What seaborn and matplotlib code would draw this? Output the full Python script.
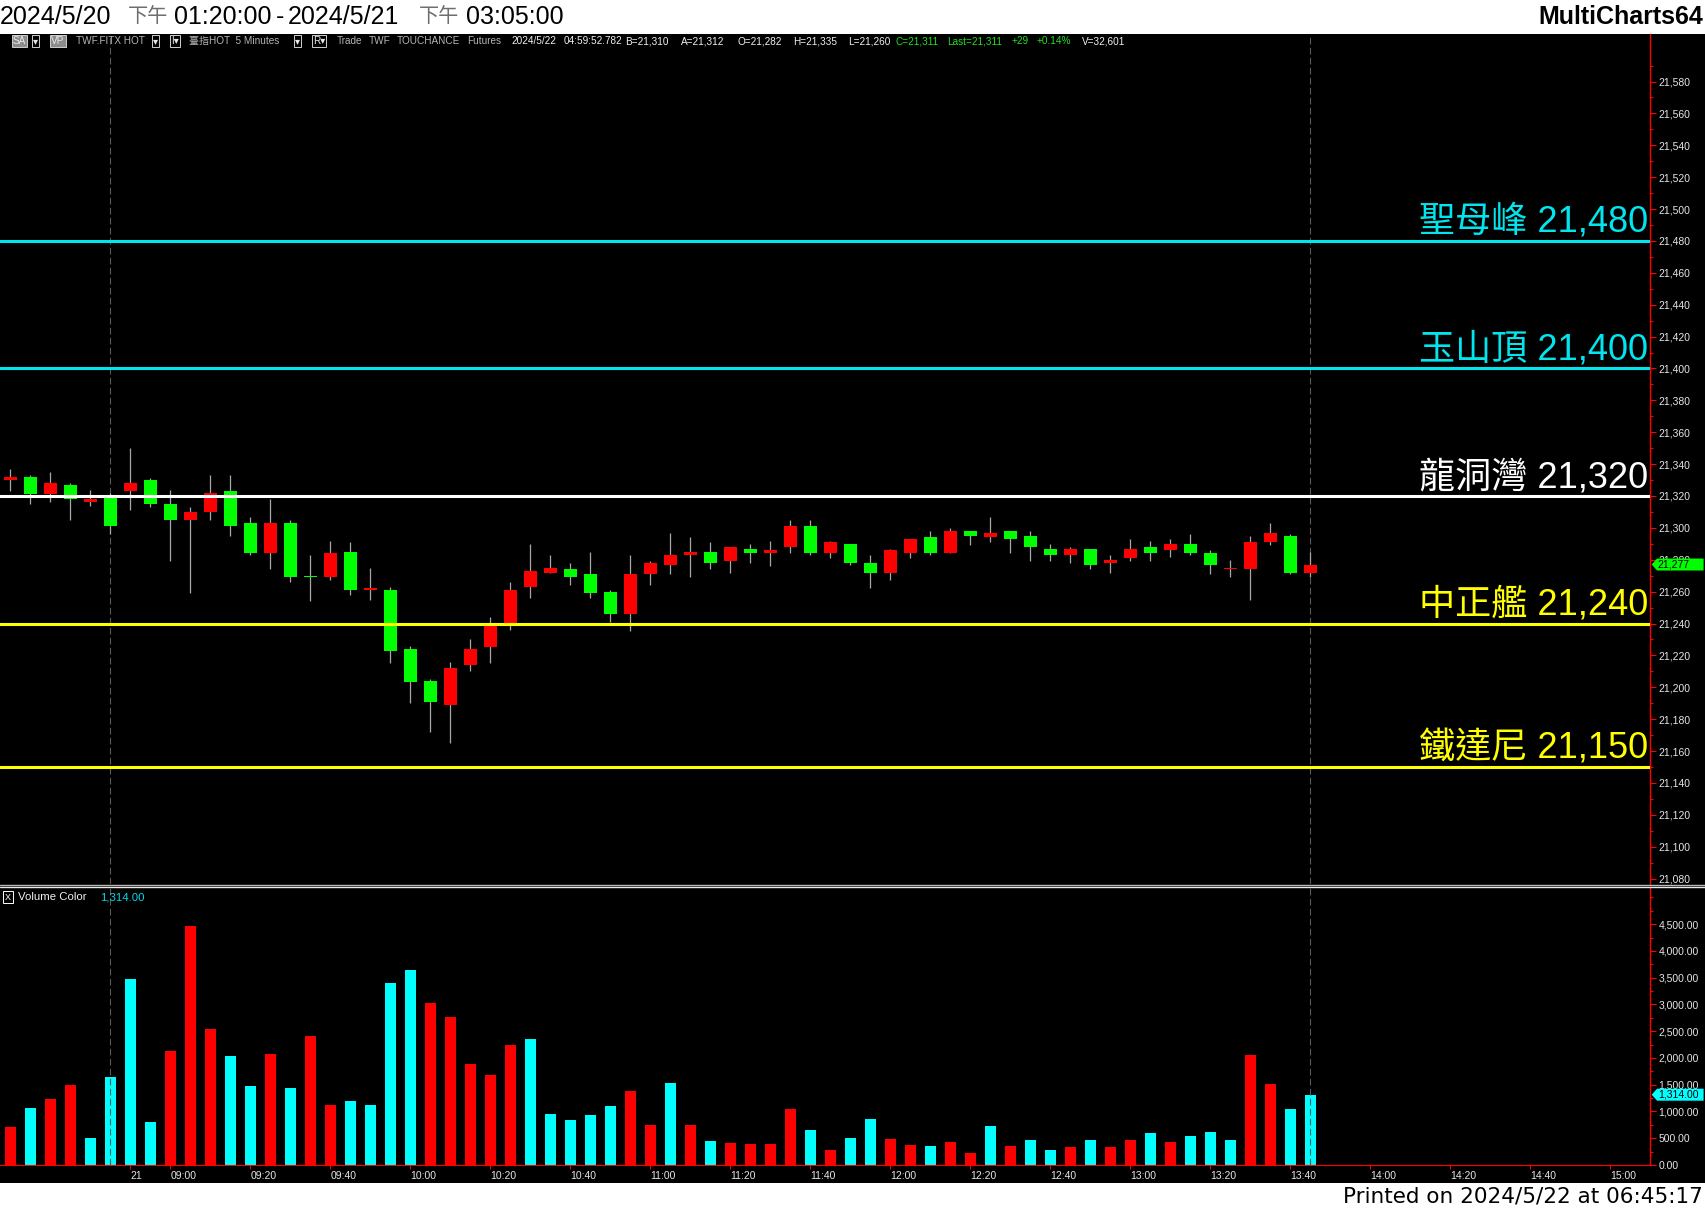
import matplotlib
matplotlib.use("Agg")
import numpy as np
import pandas as pd
import seaborn as sns
import matplotlib.pyplot as plt
import matplotlib.transforms as mtransforms
from matplotlib.patches import Rectangle, Polygon
from matplotlib.lines import Line2D

# 5-minute bars, TWF.FITX HOT
opens = [21330, 21332, 21321, 21327, 21316, 21320, 21323, 21330, 21315, 21305,
         21310, 21323, 21303, 21284, 21303, 21270, 21269, 21285, 21261, 21261,
         21224, 21204, 21189, 21214, 21225, 21239, 21263, 21272, 21274, 21271,
         21260, 21246, 21271, 21277, 21283, 21285, 21279, 21287, 21284, 21288,
         21301, 21284, 21290, 21278, 21272, 21284, 21294, 21284, 21298, 21294,
         21298, 21295, 21287, 21283, 21287, 21278, 21281, 21288, 21286, 21290,
         21284, 21274, 21274, 21291, 21295, 21272]
highs = [21337, 21333, 21335, 21328, 21324, 21322, 21350, 21331, 21324, 21313,
         21333, 21333, 21307, 21318, 21305, 21283, 21292, 21291, 21275, 21263,
         21226, 21205, 21216, 21230, 21244, 21266, 21290, 21283, 21278, 21285,
         21261, 21283, 21279, 21297, 21294, 21291, 21288, 21290, 21292, 21305,
         21305, 21292, 21290, 21283, 21287, 21293, 21298, 21300, 21298, 21307,
         21298, 21298, 21290, 21288, 21287, 21283, 21293, 21292, 21293, 21296,
         21286, 21280, 21295, 21303, 21296, 21285]
lows = [21323, 21315, 21316, 21305, 21314, 21296, 21311, 21313, 21279, 21259,
        21305, 21295, 21283, 21274, 21266, 21254, 21267, 21258, 21255, 21215,
        21190, 21172, 21165, 21210, 21215, 21236, 21256, 21272, 21264, 21256,
        21241, 21235, 21264, 21271, 21269, 21274, 21272, 21278, 21276, 21284,
        21283, 21281, 21277, 21262, 21267, 21281, 21283, 21284, 21289, 21291,
        21284, 21279, 21279, 21278, 21274, 21272, 21279, 21279, 21282, 21283,
        21271, 21269, 21255, 21289, 21271, 21269]
closes = [21332, 21321, 21328, 21318, 21318, 21301, 21328, 21315, 21305, 21310,
          21322, 21301, 21284, 21303, 21269, 21269, 21284, 21261, 21262, 21223,
          21203, 21191, 21212, 21224, 21239, 21261, 21273, 21275, 21269, 21259,
          21246, 21271, 21278, 21283, 21285, 21278, 21288, 21284, 21286, 21301,
          21284, 21291, 21278, 21272, 21286, 21293, 21284, 21298, 21295, 21297,
          21293, 21288, 21283, 21287, 21277, 21280, 21287, 21284, 21290, 21284,
          21277, 21275, 21291, 21297, 21272, 21277]
volumes = [718, 1073, 1241, 1503, 512, 1652, 3484, 811, 2138, 4474,
           2549, 2045, 1484, 2082, 1447, 2419, 1129, 1204, 1129, 3409,
           3652, 3035, 2774, 1895, 1690, 2250, 2362, 961, 849, 942,
           1110, 1391, 755, 1540, 755, 456, 419, 400, 400, 1054,
           662, 288, 512, 867, 493, 381, 363, 437, 232, 736,
           363, 475, 288, 344, 475, 344, 475, 606, 437, 549,
           624, 475, 2063, 1521, 1054, 1314]
vol_tone = ["red", "cyan", "red", "red", "cyan", "cyan", "cyan", "cyan", "red", "red",
            "red", "cyan", "cyan", "red", "cyan", "red", "red", "cyan", "cyan", "cyan",
            "cyan", "red", "red", "red", "red", "red", "cyan", "cyan", "cyan", "cyan",
            "cyan", "red", "red", "cyan", "red", "cyan", "red", "red", "red", "red",
            "cyan", "red", "cyan", "cyan", "red", "red", "cyan", "red", "red", "cyan",
            "red", "cyan", "cyan", "red", "cyan", "red", "red", "cyan", "red", "cyan",
            "cyan", "cyan", "red", "red", "cyan", "cyan"]

time_ticks = [6, 8, 12, 16, 20, 24, 28, 32, 36, 40, 44, 48, 52, 56, 60, 64, 68, 72, 76, 80]
time_labels = ["21", "09:00", "09:20", "09:40", "10:00", "10:20", "10:40", "11:00", "11:20",
               "11:40", "12:00", "12:20", "12:40", "13:00", "13:20", "13:40", "14:00",
               "14:20", "14:40", "15:00"]
session_marks = [5, 65]

levels = [21480, 21400, 21320, 21240, 21150]
level_names = ["聖母峰", "玉山頂", "龍洞灣", "中正艦", "鐵達尼"]
level_colors = ["#00E5EE", "#00E5EE", "#FFFFFF", "#FFFF00", "#FFFF00"]

last_price = 21277
last_volume = 1314

W, H = 1705, 1211

sns.set_style("ticks")
plt.rcParams["font.family"] = ["Liberation Sans", "Noto Sans CJK TC", "DejaVu Sans"]
fam = ["Liberation Sans", "Noto Sans CJK TC", "DejaVu Sans"]


def fx(x):
    return x / W


def fy(y):
    return 1 - y / H


fig = plt.figure(figsize=(W / 100, H / 100), dpi=100, facecolor="white")
fig.patches.append(Rectangle((0, fy(1183)), 1, (1183 - 34) / H, transform=fig.transFigure,
                             facecolor="black", edgecolor="none", zorder=-10))

ax = fig.add_axes([0, fy(884), fx(1650), (884 - 34) / H])
ax_v = fig.add_axes([0, fy(1165), fx(1650), (1165 - 887) / H])

idx = np.arange(len(opens))
o = np.array(opens)
c = np.array(closes)
body_col = np.where(c >= o, "#FF0000", "#00FF00")

# candles
ax.vlines(idx, lows, highs, color="#A8A8A8", lw=0.9, zorder=2)
ax.bar(idx, np.abs(c - o), bottom=np.minimum(o, c), width=0.65, color=body_col,
       linewidth=0, zorder=3)

# price levels
ytr = ax.get_yaxis_transform()
for lv, name, col in zip(levels, level_names, level_colors):
    ax.axhline(lv, color=col, lw=2.2, zorder=4)
    ax.text(0.9988, lv + 5.6, f"{name} {lv:,}", transform=ytr, ha="right", va="baseline",
            fontsize=26, color=col, zorder=5, family=fam)

# volume
vol_df = pd.DataFrame({"bar": idx, "volume": volumes, "tone": vol_tone})
sns.barplot(data=vol_df, x="bar", y="volume", hue="tone",
            palette={"red": "#FF0000", "cyan": "#00FFFF"}, native_scale=True,
            width=0.55, dodge=False, legend=False, errorbar=None, saturation=1,
            linewidth=0, ax=ax_v)

for a in (ax, ax_v):
    a.set_facecolor("black")
    a.set_xlabel("")
    a.set_ylabel("")
    a.grid(False)
    for s in ("top", "left", "bottom"):
        a.spines[s].set_visible(False)
    a.spines["right"].set_color("#FF0000")
    a.spines["right"].set_linewidth(1.0)
    a.yaxis.tick_right()
    a.tick_params(axis="y", which="major", colors="#FF0000", labelcolor="#E6E6E6",
                  labelsize=7.5, direction="out", length=4, width=0.8, pad=2)
    a.tick_params(axis="y", which="minor", colors="#FF0000", direction="out",
                  length=2.5, width=0.8)
    for xm in session_marks:
        a.axvline(xm, color="#5A5A5A", lw=0.8, ls=(0, (6, 3)), zorder=1)

pticks = np.arange(21080, 21581, 20)
ax.set_yticks(pticks)
ax.set_yticklabels([f"{v:,}" for v in pticks])
ax.set_yticks(np.arange(21090, 21600, 10), minor=True)
ax.set_xticks([])

vticks = np.arange(0, 4501, 500)
ax_v.set_yticks(vticks)
ax_v.set_yticklabels([f"{v:,.2f}" for v in vticks])
ax_v.set_yticks(np.arange(0, 5001, 250), minor=True)
ax_v.spines["bottom"].set_visible(True)
ax_v.spines["bottom"].set_color("#FF0000")
ax_v.set_xticks(time_ticks)
ax_v.set_xticklabels(time_labels)
ax_v.tick_params(axis="x", colors="#FF0000", labelcolor="#E6E6E6", labelsize=7.5,
                 direction="out", length=3, width=0.8, pad=1)
for lab in ax_v.get_xticklabels():
    lab.set_ha("left")

# limits last, so tick setting cannot widen them
for a in (ax, ax_v):
    a.set_xlim(-0.515, 81.985)
ax.set_ylim(21076.6, 21609.8)
ax_v.set_ylim(0, 5196)


# last value markers
def marker(a, value, half, face, text):
    tr = mtransforms.blended_transform_factory(a.transAxes, a.transData)
    pts = [[1.001, value], [1.0043, value + half], [1.0325, value + half],
           [1.0325, value - half], [1.0043, value - half]]
    a.add_patch(Polygon(pts, closed=True, transform=tr, facecolor=face,
                        edgecolor="none", clip_on=False, zorder=10))
    a.text(1.0048, value, text, transform=tr, ha="left", va="center", fontsize=7.5,
           color="black", zorder=11, clip_on=False)


marker(ax, last_price, 6 / 1.594, "#00FF00", f"{last_price:,}")
marker(ax_v, last_volume, 6 * 18.69, "#00FFFF", f"{last_volume:,.2f}")
ax.set_ylim(21076.6, 21609.8)
ax_v.set_ylim(0, 5196)

# panel separator
fig.add_artist(Line2D([0, 1], [fy(884.5), fy(884.5)], color="#B8B8B8", lw=1.0,
                      transform=fig.transFigure))
fig.add_artist(Line2D([0, 1], [fy(886.8), fy(886.8)], color="#E8E8E8", lw=1.0,
                      transform=fig.transFigure))

# header title
title_parts = [(0, "2024/5/20", "black", 18), (128, "下午", "#6E6E6E", 14.5),
               (174, "01:20:00", "black", 18), (276, "-", "black", 18),
               (288, "2024/5/21", "black", 18), (419, "下午", "#6E6E6E", 14.5),
               (466, "03:05:00", "black", 18)]
for x, s, col, size in title_parts:
    fig.text(fx(x), fy(17), s, ha="left", va="center", fontsize=size, color=col, family=fam)
fig.text(fx(1703), fy(17), "MultiCharts64", ha="right", va="center",
         fontsize=18, fontweight="bold", color="black", family=fam)
fig.text(fx(1703), fy(1197), "Printed on 2024/5/22 at 06:45:17", ha="right", va="center",
         fontsize=15.5, color="black", family=["DejaVu Sans"])

# info line
isize = 7.2
iy = fy(41)
boxed = [(13, "SA", "#8C8C8C"), (51, "VP", "#8C8C8C"), (33, "▾", "black"), (153, "▾", "black"),
         (171, "I▾", "black"), (295, "▾", "black"), (313, "R▾", "black")]
for x, s, face in boxed:
    fig.text(fx(x), iy, s, ha="left", va="center", fontsize=isize, color="#E8E8E8",
             family=fam, bbox=dict(boxstyle="square,pad=0.12", fc=face, ec="#CFCFCF", lw=0.7))
info_parts = [(76, "TWF.FITX HOT", "#B4B4B4"), (189, "臺指HOT  5 Minutes", "#B4B4B4"),
              (337, "Trade", "#B4B4B4"), (369, "TWF", "#B4B4B4"), (397, "TOUCHANCE", "#B4B4B4"),
              (467, "Futures", "#B4B4B4"), (511, "2024/5/22", "#F0F0F0"),
              (564, "04:59:52.782", "#F0F0F0"), (625, "B=21,310", "#F0F0F0"),
              (681, "A=21,312", "#F0F0F0"), (737, "O=21,282", "#F0F0F0"),
              (793, "H=21,335", "#F0F0F0"), (848, "L=21,260", "#F0F0F0"),
              (896, "C=21,311", "#22E022"), (947, "Last=21,311", "#22E022"),
              (1012, "+29", "#22E022"), (1037, "+0.14%", "#22E022"), (1082, "V=32,601", "#F0F0F0")]
for x, s, col in info_parts:
    fig.text(fx(x), iy, s, ha="left", va="center", fontsize=isize, color=col, family=fam)

# volume legend
fig.text(fx(5), fy(897), "X", ha="left", va="center", fontsize=6.5, color="white",
         bbox=dict(boxstyle="square,pad=0.2", fc="black", ec="white", lw=0.7))
fig.text(fx(18), fy(897), "Volume Color", ha="left", va="center", fontsize=8.2, color="#F0F0F0")
fig.text(fx(100), fy(897), f"{last_volume:,.2f}", ha="left", va="center", fontsize=8.2,
         color="#00D8E8")

fig.savefig("out.png", dpi=100, facecolor="white")
